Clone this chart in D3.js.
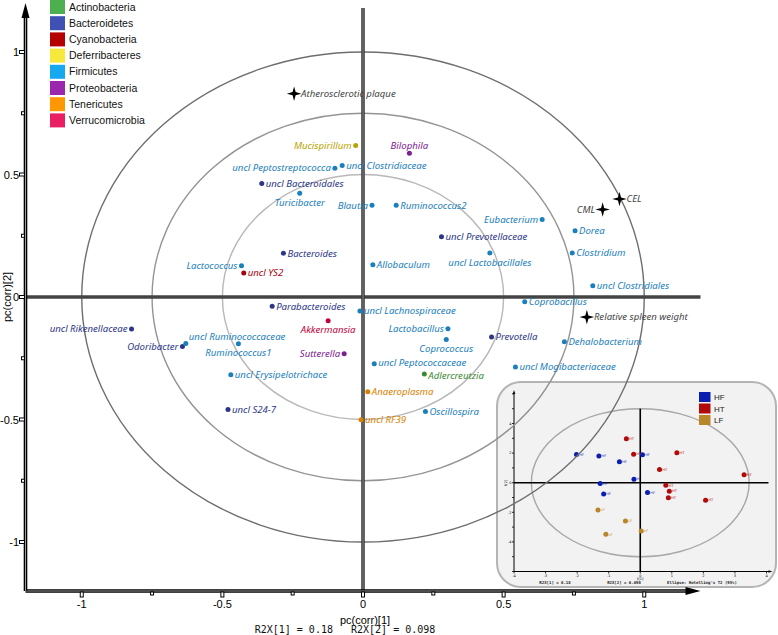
<!DOCTYPE html>
<html><head><meta charset="utf-8">
<script src="https://cdn.jsdelivr.net/npm/d3@7"></script>
<style>body{margin:0;background:#fff}svg{display:block}</style>
</head><body>
<svg id="c" width="778" height="635"></svg>
<script>
// ---------- DATA ----------
const phyla = ["Actinobacteria","Bacteroidetes","Cyanobacteria","Deferribacteres","Firmicutes","Proteobacteria","Tenericutes","Verrucomicrobia"];
const swatchColors = ["#4caf50","#3f51b5","#b40000","#f7e83c","#16a9ef","#9a27ae","#ff9800","#e91e63"];
const textColors = ["#3b8a35","#2c3687","#a50010","#b8a300","#1a80bd","#7d208f","#d98200","#c2003c"];

const taxa = ["Mucispirillum","Bilophila","uncl Peptostreptococca","uncl Clostridiaceae","uncl Bacteroidales","Turicibacter","Blautia","Ruminococcus2","Bacteroides","Lactococcus","uncl YS2","Allobaculum","Eubacterium","uncl Prevotellaceae","uncl Lactobacillales","Dorea","Clostridium","uncl Clostridiales","Coprobacillus","Lactobacillus","Coprococcus","Prevotella","Dehalobacterium","uncl Mogibacteriaceae","uncl Lachnospiraceae","Akkermansia","Sutterella","uncl Peptococcaceae","Adlercreutzia","Anaeroplasma","uncl RF39","Oscillospira","Parabacteroides","uncl Rikenellaceae","Odoribacter","uncl Ruminococcaceae","Ruminococcus1","uncl Erysipelotrichace","uncl S24-7"];
const taxaPhylum = ["Deferribacteres","Proteobacteria","Firmicutes","Firmicutes","Bacteroidetes","Firmicutes","Firmicutes","Firmicutes","Bacteroidetes","Firmicutes","Cyanobacteria","Firmicutes","Firmicutes","Bacteroidetes","Firmicutes","Firmicutes","Firmicutes","Firmicutes","Firmicutes","Firmicutes","Firmicutes","Bacteroidetes","Firmicutes","Firmicutes","Firmicutes","Verrucomicrobia","Proteobacteria","Firmicutes","Actinobacteria","Tenericutes","Tenericutes","Firmicutes","Bacteroidetes","Bacteroidetes","Bacteroidetes","Firmicutes","Firmicutes","Firmicutes","Bacteroidetes"];
const taxaPc1 = [-0.026,0.165,-0.100,-0.074,-0.360,-0.225,0.032,0.118,-0.283,-0.432,-0.424,0.035,0.637,0.279,0.451,0.754,0.744,0.817,0.575,0.302,0.296,0.457,0.716,0.542,-0.011,-0.124,-0.067,0.040,0.218,0.017,-0.007,0.222,-0.323,-0.823,-0.642,-0.630,-0.443,-0.470,-0.480];
const taxaPc2 = [0.618,0.587,0.526,0.537,0.463,0.423,0.374,0.374,0.179,0.128,0.098,0.132,0.316,0.246,0.180,0.270,0.180,0.046,-0.019,-0.130,-0.173,-0.163,-0.183,-0.286,-0.057,-0.097,-0.232,-0.272,-0.314,-0.387,-0.501,-0.467,-0.038,-0.131,-0.202,-0.190,-0.191,-0.317,-0.459];

const variables = ["Atherosclerotic plaque","CEL","CML","Relative spleen weight"];
const varPc1 = [-0.245,0.912,0.852,0.796];
const varPc2 = [0.830,0.400,0.357,-0.082];

const axisTicks = [-1,-0.5,0,0.5,1];
const axisTickLabels = ["-1","-0.5","0","0.5","1"];
const minorTicks = [-1,-0.75,-0.5,-0.25,0,0.25,0.5,0.75,1];
const circleRadii = [1,0.75,0.5];

// inset score plot
const groups = ["HF","HT","LF"];
const groupColors = ["#0a1fb0","#b00a0a","#b8862a"];
const scoreGroup = ["HT","HT","HT","HT","HT","HT","HT","HT","HT","HF","HF","HF","HF","HF","HF","HF","HF","LF","LF","LF","LF"];
const scoreT1 = [-0.44,-0.21,1.16,0.61,3.29,0.81,0.92,0.89,2.07,-2.02,-1.31,0.07,-0.66,-0.20,-1.27,-1.16,0.23,-1.34,-0.47,0.03,-1.09];
const scoreT2 = [2.97,1.93,2.03,0.90,0.54,-0.18,-0.57,-1.01,-1.18,1.91,1.80,1.89,1.42,0.24,-0.05,-0.77,-0.66,-1.85,-2.59,-3.27,-3.49];
const insetXTicks = [-4,-3,-2,-1,0,1,2,3,4];
const insetYTicks = [-6,-5,-4,-3,-2,-1,0,1,2,3,4,5,6];
const insetYLabels = [-4,-2,0,2,4];
const insetTexts = ["R2X[1] = 0.18","R2X[2] = 0.098","Ellipse: Hotelling's T2 (95%)"];

// label placement (layout, kept apart from the data)
const labelSide = {"Mucispirillum":"L","Bilophila":"T","uncl Peptostreptococca":"L","Turicibacter":"B","Blautia":"L","Lactococcus":"L","Eubacterium":"L","uncl Lactobacillales":"B","Lactobacillus":"L","Coprococcus":"B","Akkermansia":"B","Sutterella":"L","uncl Rikenellaceae":"L","Odoribacter":"L","uncl Ruminococcaceae":"TR","Ruminococcus1":"B","CML":"L","Adlercreutzia":"RD","uncl Peptococcaceae":"RU"};

// ---------- DRAW ----------
const svg = d3.select("#c");
const x = d3.scaleLinear().domain([-1.2,1.2]).range([25.5,700.5]);
const y = d3.scaleLinear().domain([-1.2,1.2]).range([591,3]);
const phylumIdx = p => phyla.indexOf(p);

// Inset
const ix = d3.scaleLinear().domain([-4,4]).range([514,766.5]);
const iy = d3.scaleLinear().domain([-6,6]).range([571.5,393.9]);
const inset = svg.append("g");
inset.append("rect").attr("x",497).attr("y",382).attr("width",279).attr("height",205).attr("rx",24)
  .attr("fill","#f2f2f2").attr("stroke","#b4b4b4").attr("stroke-width",2);
inset.append("ellipse").attr("cx",ix(0)).attr("cy",iy(0)).attr("rx",ix(3.45)-ix(0)).attr("ry",iy(0)-iy(5.0))
  .attr("fill","none").attr("stroke","#a8a8a8").attr("stroke-width",1.4);
inset.append("line").attr("x1",ix(0)).attr("x2",ix(0)).attr("y1",iy(5.0)).attr("y2",iy(-6)).attr("stroke","#000").attr("stroke-width",1.6);
inset.append("line").attr("x1",ix(-4)).attr("x2",ix(4)+2).attr("y1",iy(0)).attr("y2",iy(0)).attr("stroke","#000").attr("stroke-width",1.6);
// inset axes
inset.append("line").attr("x1",ix(-4)).attr("x2",ix(-4)).attr("y1",iy(-6)).attr("y2",iy(6)-1).attr("stroke","#000").attr("stroke-width",1);
inset.append("line").attr("x1",ix(-4)).attr("x2",ix(4)+3).attr("y1",iy(-6)).attr("y2",iy(-6)).attr("stroke","#000").attr("stroke-width",1);
inset.append("path").attr("d",`M${ix(4)+6},${iy(-6)}l-4,-1.3v2.6z`).attr("fill","#000");
inset.append("path").attr("d",`M${ix(-4)},${iy(6)-4}l-1.3,4h2.6z`).attr("fill","#000");
inset.selectAll(".ixt").data(insetXTicks).join("line").attr("x1",d=>ix(d)).attr("x2",d=>ix(d))
  .attr("y1",iy(-6)).attr("y2",iy(-6)+2).attr("stroke","#000").attr("stroke-width",0.8);
inset.selectAll(".ixl").data(insetXTicks).join("text").attr("x",d=>ix(d)).attr("y",iy(-6)+5.5)
  .attr("text-anchor","middle").attr("font-size",3.5).attr("font-family","DejaVu Sans").text(d=>d);
inset.selectAll(".iyt").data(insetYTicks).join("line").attr("x1",ix(-4)-2).attr("x2",ix(-4))
  .attr("y1",d=>iy(d)).attr("y2",d=>iy(d)).attr("stroke","#000").attr("stroke-width",0.8);
inset.selectAll(".iyl").data(insetYLabels).join("text").attr("x",ix(-4)-2.5).attr("y",d=>iy(d)+1.2)
  .attr("text-anchor","end").attr("font-size",3.5).attr("font-family","DejaVu Sans").text(d=>d);
inset.append("text").attr("transform",`translate(${ix(-4)-7},${iy(0)}) rotate(-90)`).attr("text-anchor","middle")
  .attr("font-size",3.5).attr("font-family","DejaVu Sans").text("t[2]");
inset.append("text").attr("x",ix(0)).attr("y",iy(-6)+8.5).attr("text-anchor","middle")
  .attr("font-size",3.5).attr("font-family","DejaVu Sans").text("t[1]");
const insetTextX = [555,624,702];
inset.selectAll(".itx").data(insetTexts).join("text").attr("x",(d,i)=>insetTextX[i]).attr("y",584)
  .attr("text-anchor","middle").attr("font-size",4).attr("font-weight","bold").attr("font-family","DejaVu Sans Mono").attr("fill","#222").text(d=>d);
// inset legend
inset.selectAll(".ilg").data(groups).join("rect").attr("x",699).attr("y",(d,i)=>392+i*11.5).attr("width",11.5).attr("height",10)
  .attr("fill",(d,i)=>groupColors[i]);
inset.selectAll(".ilt").data(groups).join("text").attr("x",714).attr("y",(d,i)=>400+i*11.5)
  .attr("font-size",8).attr("font-family","Liberation Sans, Arial").attr("fill","#222").text(d=>d);
// inset points
const scores = scoreGroup.map((g,i)=>({g,t1:scoreT1[i],t2:scoreT2[i]}));
inset.selectAll(".ip").data(scores).join("circle").attr("cx",d=>ix(d.t1)).attr("cy",d=>iy(d.t2)).attr("r",2.5)
  .attr("fill",d=>groupColors[groups.indexOf(d.g)]);
inset.selectAll(".ipt").data(scores).join("text").attr("x",d=>ix(d.t1)+2.7).attr("y",d=>iy(d.t2)+1.2)
  .attr("font-size",3.6).attr("font-family","DejaVu Sans").attr("fill",d=>groupColors[groups.indexOf(d.g)]).text(d=>d.g);

// Correlation circles
const circleColors = ["#6e6e6e","#949494","#b8b8b8"];
svg.selectAll(".cc").data(circleRadii).join("ellipse")
  .attr("cx",x(0)).attr("cy",y(0)).attr("rx",d=>x(d)-x(0)).attr("ry",d=>y(0)-y(d))
  .attr("fill","none").attr("stroke",(d,i)=>circleColors[i]).attr("stroke-width",1.4);

// zero lines
svg.append("line").attr("x1",x(-1.2)).attr("x2",x(1.2)).attr("y1",y(0)).attr("y2",y(0)).attr("stroke","#444").attr("stroke-width",3.5);
svg.append("line").attr("x1",x(0)).attr("x2",x(0)).attr("y1",y(1.18)).attr("y2",y(-1.2)).attr("stroke","#333").attr("stroke-width",3.5);
svg.append("line").attr("x1",x(0)).attr("x2",x(0)).attr("y1",y(1.18)).attr("y2",y(-1.2)).attr("stroke","#999").attr("stroke-width",0.9);

// Main axes (double line look)
function dblLine(x1,y1,x2,y2){
  svg.append("line").attr("x1",x1).attr("y1",y1).attr("x2",x2).attr("y2",y2).attr("stroke","#000").attr("stroke-width",3.6);
  svg.append("line").attr("x1",x1).attr("y1",y1).attr("x2",x2).attr("y2",y2).attr("stroke","#aaa").attr("stroke-width",0.9);
}
dblLine(x(-1.2),y(-1.2),x(1.2)-14,y(-1.2));
dblLine(x(-1.2),y(-1.2),x(-1.2),y(1.2)+14);
svg.append("path").attr("d",`M${x(1.2)},${y(-1.2)}l-15,-4v8z`).attr("fill","#000");
svg.append("path").attr("d",`M${x(-1.2)},${y(1.2)}l-4,15h8z`).attr("fill","#000");
// ticks
svg.selectAll(".xmt").data(minorTicks).join("rect").attr("x",d=>x(d)-1.5).attr("y",y(-1.2)+1).attr("width",3)
  .attr("height",d=>axisTicks.includes(d)?5:3).attr("fill","#fff").attr("stroke","#000").attr("stroke-width",1);
svg.selectAll(".ymt").data(minorTicks).join("rect").attr("y",d=>y(d)-1.5).attr("x",d=>x(-1.2)-(axisTicks.includes(d)?6:4)).attr("height",3)
  .attr("width",d=>axisTicks.includes(d)?5:3).attr("fill","#fff").attr("stroke","#000").attr("stroke-width",1);
svg.selectAll(".xtl").data(axisTicks).join("text").attr("x",d=>x(d)).attr("y",608)
  .attr("text-anchor","middle").attr("font-size",11).attr("font-family","Liberation Sans Narrow, Liberation Sans, Arial").text((d,i)=>axisTickLabels[i]);
svg.selectAll(".ytl").data(axisTicks).join("text").attr("x",19).attr("y",d=>y(d)+4)
  .attr("text-anchor","end").attr("font-size",11).attr("font-family","Liberation Sans Narrow, Liberation Sans, Arial").text((d,i)=>axisTickLabels[i]);
svg.append("text").attr("transform",`translate(11,${y(0)}) rotate(-90)`).attr("text-anchor","middle")
  .attr("font-size",11).attr("font-family","Liberation Sans Narrow, Liberation Sans, Arial").text("pc(corr)[2]");
svg.append("text").attr("x",x(0)+2).attr("y",623.5).attr("text-anchor","middle")
  .attr("font-size",11).attr("font-family","Liberation Sans Narrow, Liberation Sans, Arial").text("pc(corr)[1]");
svg.append("text").attr("x",345).attr("y",633).attr("text-anchor","middle").attr("xml:space","preserve")
  .attr("font-size",10).attr("font-family","DejaVu Sans Mono").attr("fill","#111").text("R2X[1] = 0.18   R2X[2] = 0.098");

// label offsets
const off = {R:[4,0,"start"],L:[-4,0,"end"],B:[0,9.3,"middle"],T:[0,-8,"middle"],TR:[3,-7,"start"],RD:[4,1.5,"start"],RU:[4,-1,"start"]};
const labelFont = "Noto Sans, Open Sans, sans-serif";

// taxa points
const pts = taxa.map((n,i)=>({n,p:taxaPhylum[i],a:taxaPc1[i],b:taxaPc2[i]}));
svg.selectAll(".pt").data(pts).join("circle").attr("cx",d=>x(d.a)).attr("cy",d=>y(d.b)).attr("r",2.5)
  .attr("fill",d=>textColors[phylumIdx(d.p)]);
svg.selectAll(".pl").data(pts).join("text")
  .attr("x",d=>x(d.a)+off[labelSide[d.n]||"R"][0]).attr("y",d=>y(d.b)+off[labelSide[d.n]||"R"][1])
  .attr("dy","0.35em").attr("text-anchor",d=>off[labelSide[d.n]||"R"][2])
  .attr("font-size",9.6).attr("font-style","italic").attr("font-family",labelFont)
  .attr("fill",d=>textColors[phylumIdx(d.p)]).text(d=>d.n);

// variables (4-point stars)
const star4 = {draw(ctx,size){const r=Math.sqrt(size)/2, ri=r*0.3;
  for(let k=0;k<8;k++){const ang=k*Math.PI/4, rr=k%2?ri:r; const px=rr*Math.sin(ang), py=-rr*Math.cos(ang); k?ctx.lineTo(px,py):ctx.moveTo(px,py);} ctx.closePath();}};
const vars = variables.map((n,i)=>({n,a:varPc1[i],b:varPc2[i]}));
svg.selectAll(".vs").data(vars).join("path").attr("d",d3.symbol().type(star4).size(210))
  .attr("transform",d=>`translate(${x(d.a)},${y(d.b)})`).attr("fill","#000");
svg.selectAll(".vl").data(vars).join("text")
  .attr("x",d=>x(d.a)+(labelSide[d.n]==="L"?-7.5:7)).attr("y",d=>y(d.b)).attr("dy","0.35em")
  .attr("text-anchor",d=>labelSide[d.n]==="L"?"end":"start")
  .attr("font-size",9.6).attr("font-style","italic").attr("font-family",labelFont).attr("fill","#444").text(d=>d.n);

// Legend
const lg = svg.append("g");
lg.selectAll("rect").data(phyla).join("rect").attr("x",50).attr("y",(d,i)=>0+i*16.2).attr("width",15).attr("height",14)
  .attr("fill",(d,i)=>swatchColors[i]);
lg.selectAll("text").data(phyla).join("text").attr("x",69).attr("y",(d,i)=>7+i*16.2).attr("dy","0.35em")
  .attr("font-size",10.5).attr("font-family","Liberation Sans, Arial").attr("fill","#111").text(d=>d);
</script>
</body></html>
